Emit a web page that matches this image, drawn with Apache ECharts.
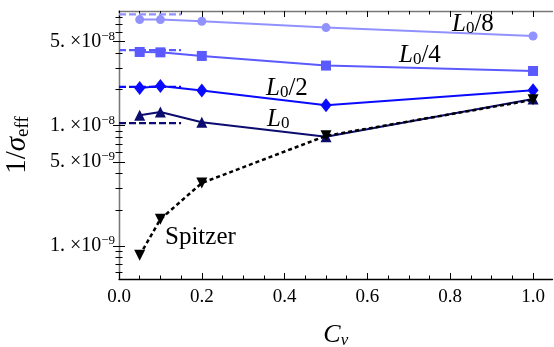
<!DOCTYPE html>
<html><head><meta charset="utf-8">
<script src="https://cdn.jsdelivr.net/npm/echarts@6/dist/echarts.min.js"></script>
<style>html,body{margin:0;padding:0;background:#fff}#c{width:554px;height:347px}</style>
</head><body><div id="c"></div>
<script>
const cv = [0.05, 0.1, 0.2, 0.5, 1.0];
const seriesL8 = [7.62e-8, 7.62e-8, 7.38e-8, 6.54e-8, 5.57e-8];
const seriesL4 = [4.10e-8, 4.07e-8, 3.80e-8, 3.16e-8, 2.85e-8];
const seriesL2 = [2.06e-8, 2.14e-8, 1.96e-8, 1.48e-8, 1.97e-8];
const seriesL1 = [1.22e-8, 1.30e-8, 1.07e-8, 8.09e-9, 1.67e-8];
const seriesSpitzer = [8.37e-10, 1.67e-9, 3.34e-9, 8.24e-9, 1.64e-8];
const limitValues = [8.43e-8, 4.24e-8, 2.10e-8, 1.05e-8];
const limitX = [0, 0.15];
const xLabelTicks = [0, 0.2, 0.4, 0.6, 0.8, 1.0];
const xMinorTicks = [0.05, 0.1, 0.15, 0.25, 0.3, 0.35, 0.45, 0.5, 0.55, 0.65, 0.7, 0.75, 0.85, 0.9, 0.95];
const yLabelTicks = [1e-9, 5e-9, 1e-8, 5e-8];
const yMinorTicks = [6e-10, 7e-10, 8e-10, 9e-10, 2e-9, 3e-9, 4e-9, 6e-9, 7e-9, 8e-9, 9e-9, 2e-8, 3e-8, 4e-8, 6e-8, 7e-8, 8e-8];

const X_MIN = 0, X_MAX = 1.047, Y_MIN = 5.32e-10, Y_MAX = 8.98e-8;
const FONT = 'Liberation Serif';
const colors = {L8: '#9292ff', L4: '#5a5aff', L2: '#0a0aff', L1: '#0c0c70', S: '#000000'};

const chart = echarts.init(document.getElementById('c'), null, {renderer: 'canvas'});

function yFmt(v) {
  const e = Math.floor(Math.log10(v) + 1e-9);
  const m = Math.round(v / Math.pow(10, e));
  return '{b|' + m + '. ×10}{s|\u2212' + (-e) + '}';
}

function xAx(pos, ticks, len, showLabel, showLine) {
  return {
    type: 'value', position: pos, min: X_MIN, max: X_MAX,
    axisLine: {show: showLine, onZero: false, lineStyle: {color: pos === 'bottom' ? '#000' : '#777', width: 1.3}},
    axisTick: {show: true, inside: true, length: len, customValues: ticks, lineStyle: {color: '#000', width: 1}},
    axisLabel: showLabel ? {show: true, customValues: ticks, margin: 9, fontFamily: FONT, fontSize: 19, color: '#000',
      formatter: v => v.toFixed(1)} : {show: false},
    splitLine: {show: false}
  };
}
function yAx(pos, ticks, len, showLabel, showLine) {
  return {
    type: 'log', position: pos, min: Y_MIN, max: Y_MAX, logBase: 10,
    axisLine: {show: showLine, lineStyle: {color: '#777', width: 1.3}},
    axisTick: {show: true, inside: true, length: len, customValues: ticks, lineStyle: {color: '#000', width: 1}},
    axisLabel: showLabel ? {show: true, customValues: ticks, margin: 4, formatter: yFmt,
      rich: {b: {fontFamily: FONT, fontSize: 20, color: '#000'}, s: {fontFamily: FONT, fontSize: 13, color: '#000', padding: [0, 0, 10, 0]}}} : {show: false},
    splitLine: {show: false}
  };
}

function line(name, vals, color, symbol, size, opts) {
  return Object.assign({
    name: name, type: 'line', xAxisIndex: 0, yAxisIndex: 0,
    data: cv.map((x, i) => [x, vals[i]]),
    symbol: symbol, symbolSize: size, showSymbol: true,
    lineStyle: {color: color, width: 2}, itemStyle: {color: color},
    animation: false, z: 3
  }, opts || {});
}
function limitLine(val, color) {
  return {
    type: 'line', xAxisIndex: 0, yAxisIndex: 0,
    data: limitX.map(x => [x, val]), symbol: 'none',
    lineStyle: {color: color, width: 2.2, type: [7, 3]}, animation: false, z: 2
  };
}

const labelRich = {
  i: {fontFamily: FONT, fontStyle: 'italic', fontSize: 25, fill: '#000'},
  sub: {fontFamily: FONT, fontSize: 17, fill: '#000', padding: [10, 0, 0, 0]},
  n: {fontFamily: FONT, fontSize: 25, fill: '#000'}
};
function lbl(text, x, y) {
  return {type: 'text', x: x, y: y, z: 10, style: {text: text, rich: labelRich, align: 'left', verticalAlign: 'middle', fill: '#000'}};
}

chart.setOption({
  animation: false,
  backgroundColor: '#fff',
  grid: {left: 119, right: 1.5, top: 11, bottom: 68, outerBoundsMode: 'none', containLabel: false},
  xAxis: [
    Object.assign(xAx('bottom', xLabelTicks, 6, true, true), {
      name: '{i|C}{sub|\u03bd}', nameLocation: 'middle', nameGap: 42,
      nameTextStyle: {rich: {i: {fontFamily: FONT, fontStyle: 'italic', fontSize: 26, color: '#000'},
        sub: {fontFamily: FONT, fontStyle: 'italic', fontSize: 17, color: '#000', padding: [11, 0, 0, 0]}}}
    }),
    xAx('bottom', xMinorTicks, 3.5, false, false),
    xAx('top', xLabelTicks, 6, false, true),
    xAx('top', xMinorTicks, 3.5, false, false)
  ],
  yAxis: [
    Object.assign(yAx('left', yLabelTicks, 6, true, true), {
      name: '{n|1/}{i|\u03c3}{sub|eff}', nameLocation: 'middle', nameGap: 86, nameRotate: 90,
      nameTextStyle: {rich: {n: {fontFamily: FONT, fontSize: 29, color: '#000'},
        i: {fontFamily: FONT, fontStyle: 'italic', fontSize: 29, color: '#000'},
        sub: {fontFamily: FONT, fontSize: 19, color: '#000', padding: [12, 0, 0, 0]}}}
    }),
    yAx('left', yMinorTicks, 3.5, false, false),
    yAx('right', yLabelTicks, 6, false, true),
    yAx('right', yMinorTicks, 3.5, false, false)
  ],
  series: [
    limitLine(limitValues[0], colors.L8),
    limitLine(limitValues[1], colors.L4),
    limitLine(limitValues[2], colors.L2),
    limitLine(limitValues[3], colors.L1),
    line('L0/8', seriesL8, colors.L8, 'circle', 9),
    line('L0/4', seriesL4, colors.L4, 'rect', 10),
    line('L0/2', seriesL2, colors.L2, 'diamond', [11, 14]),
    line('L0', seriesL1, colors.L1, 'triangle', 11),
    line('Spitzer', seriesSpitzer, colors.S, 'triangle', 11, {symbolRotate: 180, lineStyle: {color: '#000', width: 2.5, type: [4, 3]}, z: 4})
  ],
  graphic: [
    lbl('{i|L}{sub|0}{n|/8}', 452, 24),
    lbl('{i|L}{sub|0}{n|/4}', 399, 55),
    lbl('{i|L}{sub|0}{n|/2}', 266, 88),
    lbl('{i|L}{sub|0}', 267, 119),
    {type: 'text', x: 165, y: 237, z: 10, style: {text: 'Spitzer', font: '25px "Liberation Serif"', fill: '#000', align: 'left', verticalAlign: 'middle'}}
  ]
});
</script></body></html>
